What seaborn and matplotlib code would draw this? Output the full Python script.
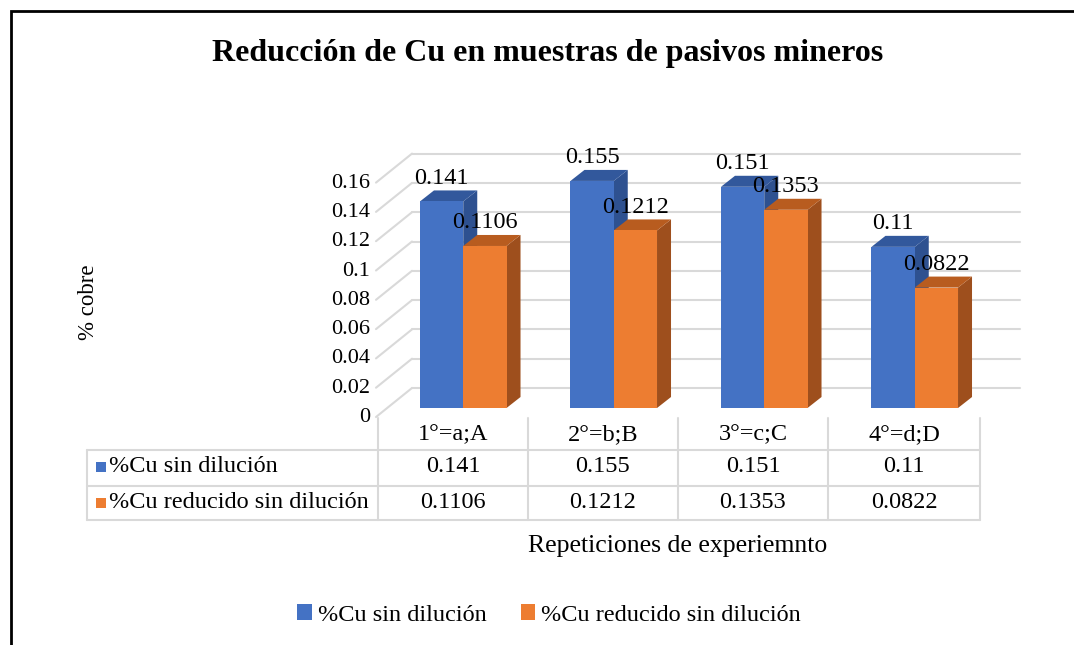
import numpy as np
import pandas as pd
import matplotlib
matplotlib.use("Agg")
import matplotlib.pyplot as plt
import seaborn as sns
from matplotlib.patches import Polygon, Rectangle, Patch
from matplotlib.lines import Line2D
from matplotlib.transforms import ScaledTranslation

# data
categories = ["1°=a;A", "2°=b;B", "3°=c;C", "4°=d;D"]
series_names = ["%Cu sin dilución", "%Cu reducido sin dilución"]
cu_sin_dilucion = [0.141, 0.155, 0.151, 0.11]
cu_reducido = [0.1106, 0.1212, 0.1353, 0.0822]
yticks = [0, 0.02, 0.04, 0.06, 0.08, 0.1, 0.12, 0.14, 0.16]

colors = ["#4472C4", "#ED7D31"]
side_colors = ["#2E5190", "#9E4F1D"]
top_colors = ["#32589C", "#B85C1F"]
grid_col = "#D9D9D9"

df = pd.DataFrame({
    "cat": categories * 2,
    "serie": [series_names[0]] * 4 + [series_names[1]] * 4,
    "valor": cu_sin_dilucion + cu_reducido,
})

sns.set_style("white")
plt.rcParams["font.family"] = ["Liberation Serif", "DejaVu Serif"]
plt.rcParams["text.color"] = "black"
plt.rcParams["ytick.color"] = "black"

W, H = 1074, 645
fig = plt.figure(figsize=(W / 100, H / 100), dpi=100)


def fx(x):
    return x / W


def fy(y):
    return 1 - y / H


# plot area (front plane of bars)
y0_px = 408
scale = 1465.0
ax = fig.add_axes([fx(388), fy(y0_px), 602 / W, 0.16 * scale / H])
sns.barplot(data=df, x="cat", y="valor", hue="serie", palette=colors, saturation=1,
            width=0.575, gap=0, linewidth=0, legend=False, ax=ax, zorder=3)
ax.set_xlim(-0.5, 3.5)
ax.set_ylim(0, 0.16)
ax.set_yticks(yticks)
ax.set_yticklabels(["%g" % v for v in yticks], fontsize=16)
ax.tick_params(axis="y", length=0, pad=13, labelcolor="black")
ax.set_xticks([])
ax.set_xlabel("")
ax.set_ylabel("")
for s in ax.spines.values():
    s.set_visible(False)
ax.patch.set_alpha(0)
off = ScaledTranslation(0, -0.07, fig.dpi_scale_trans)
for lab in ax.get_yticklabels():
    lab.set_transform(lab.get_transform() + off)

# back wall gridlines and floor diagonals
for v in yticks:
    yb = y0_px - v * scale
    fig.add_artist(Line2D([fx(412), fx(1020)], [fy(yb - 20), fy(yb - 20)],
                          color=grid_col, lw=1.5, zorder=0))
    fig.add_artist(Line2D([fx(376), fx(412)], [fy(yb + 9), fy(yb - 20)],
                          color=grid_col, lw=1.5, zorder=0))

# 3D side and top faces of the bars
dx, dy = 14, 11
bars = [p for p in ax.patches if p.get_height() > 0]
n = len(categories)
for i, p in enumerate(bars):
    k = i // n
    x0, x1 = p.get_x(), p.get_x() + p.get_width()
    h = p.get_height()
    (ax0, ay0), (ax1, ay1) = ax.transData.transform([(x0, 0), (x1, h)])
    inv = fig.transFigure.inverted()
    side = inv.transform([(ax1, ay0), (ax1, ay1), (ax1 + dx, ay1 + dy), (ax1 + dx, ay0 + dy)])
    top = inv.transform([(ax0, ay1), (ax1, ay1), (ax1 + dx, ay1 + dy), (ax0 + dx, ay1 + dy)])
    fig.add_artist(Polygon(side, closed=True, fc=side_colors[k], ec="none", zorder=1 + 0.1 * k))
    fig.add_artist(Polygon(top, closed=True, fc=top_colors[k], ec="none", zorder=1 + 0.1 * k))
ax.set_zorder(2)

for c in ax.containers:
    ax.bar_label(c, fmt="%g", padding=9, fontsize=17.5, color="black")

# data table
col_edges = [378, 528, 678, 828, 980]
for x in col_edges:
    fig.add_artist(Line2D([fx(x), fx(x)], [fy(418), fy(520)], color=grid_col, lw=1.5))
fig.add_artist(Line2D([fx(87), fx(87)], [fy(450), fy(520)], color=grid_col, lw=1.5))
for y in [450, 486, 520]:
    fig.add_artist(Line2D([fx(87), fx(980)], [fy(y), fy(y)], color=grid_col, lw=1.5))
row_y = [467, 503]
for j, cat in enumerate(categories):
    cx = (col_edges[j] + col_edges[j + 1]) / 2
    fig.text(fx(cx), fy(435), cat, ha="center", va="center", fontsize=17.5)
    fig.text(fx(cx), fy(row_y[0]), "%g" % cu_sin_dilucion[j], ha="center", va="center", fontsize=17.5)
    fig.text(fx(cx), fy(row_y[1]), "%g" % cu_reducido[j], ha="center", va="center", fontsize=17.5)
for k in range(2):
    fig.add_artist(Rectangle((fx(96), fy(row_y[k] + 5)), 10 / W, 10 / H,
                             fc=colors[k], ec="none"))
    fig.text(fx(109), fy(row_y[k]), series_names[k], ha="left", va="center", fontsize=17.5)

# texts
fig.text(fx(548), fy(53), "Reducción de Cu en muestras de pasivos mineros",
         ha="center", va="center", fontsize=23, fontweight="bold")
fig.text(fx(678), fy(546), "Repeticiones de experiemnto", ha="center", va="center", fontsize=18.5)
fig.text(fx(88), fy(302), "% cobre", ha="center", va="center", rotation=90, fontsize=16.5)

handles = [Patch(fc=colors[k], ec="none", label=series_names[k]) for k in range(2)]
fig.legend(handles=handles, loc="center", bbox_to_anchor=(fx(549), fy(615)), ncol=2,
           frameon=False, fontsize=17.5, handlelength=0.6, handleheight=0.6,
           handletextpad=0.25, columnspacing=1.4)

# outer frame
fig.add_artist(Rectangle((fx(11), fy(700)), 1.2, (700 - 11) / H, fill=False,
                         ec="black", lw=2, zorder=10))

fig.savefig("out.png", dpi=100)
